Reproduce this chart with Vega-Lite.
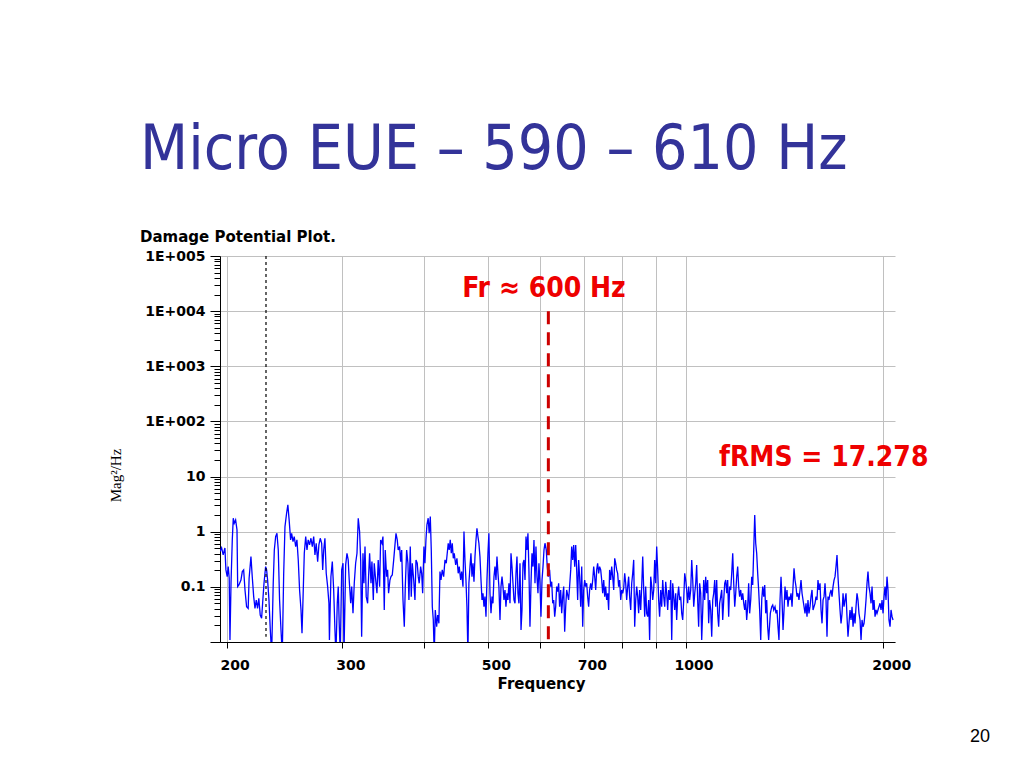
{
"$schema": "https://vega.github.io/schema/vega-lite/v6.json",
"width": 675,
"height": 386,
"autosize": {"type": "none"},
"padding": {"left": 220, "top": 256, "right": 129, "bottom": 126},
"background": "white",
"config": {"font": "DejaVu Sans", "view": {"stroke": null}},
"title": {
  "text": "Micro EUE – 590 – 610 Hz",
  "subtitle": "Damage Potential Plot.",
  "anchor": "start", "frame": "group", "dx": -80, "offset": 3,
  "font": "DejaVu Sans Condensed", "fontSize": 62, "fontWeight": "normal", "color": "#333399",
  "subtitleFont": "DejaVu Sans", "subtitleFontSize": 15, "subtitleFontWeight": "bold", "subtitleColor": "#000000", "subtitlePadding": 48
},
"datasets": {
"psd": [
{"freq":195.4,"psd":0.436},{"freq":196.5,"psd":0.508},{"freq":197.6,"psd":0.379},{"freq":198.8,"psd":0.508},{"freq":199.5,"psd":0.203},{"freq":200.4,"psd":0.153},{"freq":201.1,"psd":0.233},{"freq":201.8,"psd":0.145},{"freq":202.35,"psd":0.0109},{"freq":203.1,"psd":0.118},
{"freq":204.0,"psd":0.710},{"freq":204.7,"psd":1.756},{"freq":205.4,"psd":1.424},{"freq":206.4,"psd":1.637},{"freq":207.4,"psd":1.078},{"freq":207.9,"psd":0.101},{"freq":208.8,"psd":0.108},{"freq":210.3,"psd":0.133},{"freq":211.3,"psd":0.189},{"freq":212.3,"psd":0.203},
{"freq":213.3,"psd":0.0879},{"freq":214.5,"psd":0.0437},{"freq":215.7,"psd":0.0408},{"freq":216.4,"psd":0.143},{"freq":217.8,"psd":0.354},{"freq":218.8,"psd":0.153},{"freq":219.9,"psd":0.0665},{"freq":220.9,"psd":0.0408},{"freq":221.9,"psd":0.0578},{"freq":222.9,"psd":0.0408},
{"freq":223.9,"psd":0.062},{"freq":225.0,"psd":0.0309},{"freq":226.1,"psd":0.0269},{"freq":226.9,"psd":0.0503},{"freq":228.0,"psd":0.116},{"freq":229.3,"psd":0.233},{"freq":230.1,"psd":0.203},{"freq":230.9,"psd":0.133},{"freq":232.0,"psd":0.0578},{"freq":233.1,"psd":0.0165},
{"freq":234.2,"psd":0.006},{"freq":235.5,"psd":0.116},{"freq":236.4,"psd":0.467},{"freq":237.5,"psd":0.816},{"freq":238.6,"psd":0.938},{"freq":239.7,"psd":0.467},{"freq":240.8,"psd":0.0578},{"freq":242.0,"psd":0.0165},{"freq":243.1,"psd":0.006},{"freq":244.3,"psd":0.176},
{"freq":245.4,"psd":1.24},{"freq":246.8,"psd":2.163},{"freq":247.9,"psd":3.064},{"freq":249.0,"psd":1.637},{"freq":250.3,"psd":0.710},{"freq":251.2,"psd":0.938},{"freq":252.4,"psd":0.662},{"freq":253.5,"psd":0.816},{"freq":254.8,"psd":0.537},{"freq":255.9,"psd":0.710},
{"freq":257.1,"psd":0.308},{"freq":258.3,"psd":0.0879},{"freq":259.6,"psd":0.0381},{"freq":260.5,"psd":0.0144},{"freq":261.4,"psd":0.0578},{"freq":262.6,"psd":0.406},{"freq":263.9,"psd":0.816},{"freq":265.1,"psd":0.467},{"freq":266.2,"psd":0.710},{"freq":267.5,"psd":0.576},
{"freq":268.8,"psd":0.761},{"freq":270.1,"psd":0.537},{"freq":271.4,"psd":0.816},{"freq":272.6,"psd":0.379},{"freq":273.8,"psd":0.618},{"freq":275.2,"psd":0.287},{"freq":276.4,"psd":0.576},{"freq":277.7,"psd":0.761},{"freq":279.1,"psd":0.618},{"freq":280.1,"psd":0.203},
{"freq":281.1,"psd":0.467},{"freq":282.3,"psd":0.761},{"freq":283.6,"psd":0.176},{"freq":285.0,"psd":0.101},{"freq":286.3,"psd":0.0503},{"freq":286.8,"psd":0.0109},{"freq":288.3,"psd":0.153},{"freq":289.7,"psd":0.287},{"freq":291.1,"psd":0.0879},{"freq":292.4,"psd":0.0165},
{"freq":293.4,"psd":0.006},{"freq":294.8,"psd":0.0503},{"freq":295.8,"psd":0.101},{"freq":296.8,"psd":0.0218},{"freq":297.9,"psd":0.006},{"freq":299.4,"psd":0.203},{"freq":300.8,"psd":0.268},{"freq":301.8,"psd":0.006},{"freq":303.6,"psd":0.250},{"freq":305.0,"psd":0.406},
{"freq":306.3,"psd":0.308},{"freq":307.4,"psd":0.133},{"freq":309.0,"psd":0.0503},{"freq":310.1,"psd":0.101},{"freq":311.5,"psd":0.0331},{"freq":312.9,"psd":0.116},{"freq":314.4,"psd":0.268},{"freq":315.9,"psd":0.406},{"freq":317.3,"psd":1.756},{"freq":318.8,"psd":1.006},
{"freq":320.0,"psd":0.308},{"freq":321.1,"psd":0.0125},{"freq":322.6,"psd":0.406},{"freq":323.7,"psd":0.116},{"freq":324.9,"psd":0.537},{"freq":326.3,"psd":0.0665},{"freq":327.9,"psd":0.0503},{"freq":329.0,"psd":0.153},{"freq":330.2,"psd":0.406},{"freq":331.8,"psd":0.116},
{"freq":332.9,"psd":0.287},{"freq":334.5,"psd":0.0578},{"freq":335.6,"psd":0.268},{"freq":337.3,"psd":0.133},{"freq":338.8,"psd":0.0765},{"freq":340.3,"psd":0.308},{"freq":342.0,"psd":0.101},{"freq":343.2,"psd":0.710},{"freq":344.8,"psd":0.618},{"freq":346.0,"psd":0.816},
{"freq":347.6,"psd":0.0381},{"freq":348.8,"psd":0.467},{"freq":350.5,"psd":0.153},{"freq":351.7,"psd":0.203},{"freq":352.9,"psd":0.0765},{"freq":354.6,"psd":0.133},{"freq":355.9,"psd":0.153},{"freq":357.5,"psd":0.164},{"freq":359.3,"psd":0.308},{"freq":360.9,"psd":0.576},
{"freq":362.2,"psd":0.938},{"freq":363.8,"psd":0.710},{"freq":365.0,"psd":0.467},{"freq":366.8,"psd":0.537},{"freq":368.2,"psd":0.287},{"freq":369.5,"psd":0.467},{"freq":371.2,"psd":0.0578},{"freq":372.9,"psd":0.0189},{"freq":374.2,"psd":0.101},{"freq":376.0,"psd":0.467},
{"freq":377.7,"psd":0.268},{"freq":379.0,"psd":0.0578},{"freq":380.8,"psd":0.537},{"freq":382.1,"psd":0.0665},{"freq":383.5,"psd":0.268},{"freq":385.4,"psd":0.133},{"freq":387.1,"psd":0.0578},{"freq":388.5,"psd":0.308},{"freq":390.2,"psd":0.268},{"freq":391.6,"psd":0.153},
{"freq":392.9,"psd":0.116},{"freq":394.9,"psd":0.233},{"freq":396.3,"psd":0.176},{"freq":397.7,"psd":0.0765},{"freq":399.5,"psd":0.537},{"freq":400.9,"psd":0.268},{"freq":402.3,"psd":0.710},{"freq":403.7,"psd":1.329},{"freq":405.5,"psd":1.756},{"freq":406.9,"psd":0.938},
{"freq":408.5,"psd":1.882},{"freq":409.9,"psd":0.467},{"freq":411.4,"psd":0.0437},{"freq":412.8,"psd":0.0251},{"freq":414.2,"psd":0.006},{"freq":415.7,"psd":0.0381},{"freq":417.7,"psd":0.0189},{"freq":419.2,"psd":0.0309},{"freq":421.0,"psd":0.0218},{"freq":422.6,"psd":0.189},
{"freq":424.1,"psd":0.133},{"freq":426.0,"psd":0.203},{"freq":428.1,"psd":0.153},{"freq":430.1,"psd":0.308},{"freq":432.0,"psd":0.268},{"freq":433.5,"psd":0.406},{"freq":435.0,"psd":0.618},{"freq":436.5,"psd":0.467},{"freq":438.1,"psd":0.710},{"freq":439.7,"psd":0.406},
{"freq":441.2,"psd":0.618},{"freq":442.8,"psd":0.330},{"freq":444.3,"psd":0.406},{"freq":446.5,"psd":0.250},{"freq":448.5,"psd":0.330},{"freq":450.5,"psd":0.176},{"freq":452.1,"psd":0.233},{"freq":454.4,"psd":0.133},{"freq":456.0,"psd":0.189},{"freq":458.1,"psd":0.101},
{"freq":459.7,"psd":1.006},{"freq":461.3,"psd":0.308},{"freq":462.9,"psd":0.133},{"freq":464.5,"psd":0.0437},{"freq":466.1,"psd":0.006},{"freq":467.7,"psd":0.116},{"freq":469.5,"psd":0.233},{"freq":471.1,"psd":0.406},{"freq":472.8,"psd":0.153},{"freq":474.5,"psd":0.268},
{"freq":476.1,"psd":0.124},{"freq":477.8,"psd":0.354},{"freq":479.5,"psd":0.710},{"freq":481.1,"psd":1.156},{"freq":482.8,"psd":0.816},{"freq":484.4,"psd":0.618},{"freq":486.2,"psd":0.354},{"freq":488.0,"psd":0.133},{"freq":489.7,"psd":0.0578},{"freq":491.4,"psd":0.0765},
{"freq":493.1,"psd":0.0437},{"freq":494.8,"psd":0.0665},{"freq":496.6,"psd":0.0288},{"freq":498.3,"psd":0.133},{"freq":500.0,"psd":0.406},{"freq":501.7,"psd":0.938},{"freq":503.6,"psd":0.0765},{"freq":505.4,"psd":0.0331},{"freq":507.2,"psd":0.0665},{"freq":508.9,"psd":0.0503},
{"freq":510.7,"psd":0.153},{"freq":512.5,"psd":0.233},{"freq":514.3,"psd":0.133},{"freq":516.1,"psd":0.354},{"freq":517.9,"psd":0.176},{"freq":519.6,"psd":0.101},{"freq":521.6,"psd":0.0251},{"freq":523.4,"psd":0.101},{"freq":525.3,"psd":0.153},{"freq":527.1,"psd":0.101},
{"freq":528.9,"psd":0.0578},{"freq":530.8,"psd":0.0879},{"freq":532.6,"psd":0.0437},{"freq":534.5,"psd":0.0765},{"freq":536.3,"psd":0.0578},{"freq":538.2,"psd":0.116},{"freq":540.2,"psd":0.0503},{"freq":542.1,"psd":0.406},{"freq":544.0,"psd":0.233},{"freq":545.9,"psd":0.116},
{"freq":547.8,"psd":0.0578},{"freq":549.8,"psd":0.0503},{"freq":551.7,"psd":0.176},{"freq":553.6,"psd":0.354},{"freq":555.5,"psd":0.0765},{"freq":557.4,"psd":0.0503},{"freq":559.5,"psd":0.268},{"freq":561.5,"psd":0.0165},{"freq":563.4,"psd":0.0381},{"freq":565.4,"psd":0.268},
{"freq":567.4,"psd":0.308},{"freq":569.4,"psd":0.133},{"freq":571.4,"psd":0.816},{"freq":573.3,"psd":0.467},{"freq":575.3,"psd":0.938},{"freq":577.3,"psd":0.203},{"freq":579.4,"psd":0.0189},{"freq":581.5,"psd":0.116},{"freq":583.5,"psd":0.406},{"freq":585.6,"psd":0.233},
{"freq":587.6,"psd":0.710},{"freq":589.7,"psd":0.116},{"freq":591.7,"psd":0.537},{"freq":593.8,"psd":0.153},{"freq":595.9,"psd":0.0765},{"freq":597.9,"psd":0.268},{"freq":600.1,"psd":0.116},{"freq":602.2,"psd":0.0288},{"freq":604.4,"psd":0.133},{"freq":606.5,"psd":0.233},
{"freq":608.6,"psd":0.467},{"freq":610.7,"psd":0.618},{"freq":613.5,"psd":0.467},{"freq":615.6,"psd":0.233},{"freq":617.8,"psd":0.153},{"freq":620.7,"psd":0.203},{"freq":623.1,"psd":0.101},{"freq":625.3,"psd":0.124},{"freq":627.5,"psd":0.0503},{"freq":629.7,"psd":0.0578},
{"freq":631.9,"psd":0.0288},{"freq":634.1,"psd":0.0437},{"freq":636.3,"psd":0.101},{"freq":638.5,"psd":0.082},{"freq":640.7,"psd":0.116},{"freq":642.9,"psd":0.0437},{"freq":645.3,"psd":0.0879},{"freq":647.6,"psd":0.0331},{"freq":649.9,"psd":0.0665},{"freq":652.2,"psd":0.101},
{"freq":654.4,"psd":0.0154},{"freq":656.7,"psd":0.0437},{"freq":659.0,"psd":0.0879},{"freq":661.3,"psd":0.0713},{"freq":663.5,"psd":0.0578},{"freq":665.8,"psd":0.101},{"freq":668.4,"psd":0.203},{"freq":670.7,"psd":0.537},{"freq":673.1,"psd":0.308},{"freq":675.4,"psd":0.576},
{"freq":677.8,"psd":0.233},{"freq":680.2,"psd":0.576},{"freq":682.5,"psd":0.203},{"freq":684.9,"psd":0.0578},{"freq":687.2,"psd":0.308},{"freq":689.6,"psd":0.153},{"freq":692.2,"psd":0.0437},{"freq":694.7,"psd":0.233},{"freq":697.1,"psd":0.0189},{"freq":699.5,"psd":0.0879},
{"freq":702.0,"psd":0.133},{"freq":704.4,"psd":0.101},{"freq":706.9,"psd":0.116},{"freq":709.3,"psd":0.0665},{"freq":711.8,"psd":0.0437},{"freq":714.2,"psd":0.0879},{"freq":716.9,"psd":0.116},{"freq":719.4,"psd":0.0879},{"freq":722.0,"psd":0.133},{"freq":724.5,"psd":0.233},
{"freq":727.0,"psd":0.153},{"freq":729.6,"psd":0.0879},{"freq":732.1,"psd":0.203},{"freq":734.6,"psd":0.268},{"freq":737.2,"psd":0.176},{"freq":739.7,"psd":0.233},{"freq":742.5,"psd":0.203},{"freq":745.1,"psd":0.133},{"freq":747.7,"psd":0.0765},{"freq":750.4,"psd":0.133},
{"freq":753.0,"psd":0.0665},{"freq":755.6,"psd":0.101},{"freq":758.2,"psd":0.0578},{"freq":760.9,"psd":0.0765},{"freq":763.5,"psd":0.0381},{"freq":766.1,"psd":0.203},{"freq":769.0,"psd":0.133},{"freq":771.7,"psd":0.233},{"freq":774.4,"psd":0.153},{"freq":777.2,"psd":0.0879},
{"freq":779.9,"psd":0.330},{"freq":782.6,"psd":0.268},{"freq":785.3,"psd":0.203},{"freq":788.0,"psd":0.176},{"freq":790.7,"psd":0.101},{"freq":793.5,"psd":0.133},{"freq":796.5,"psd":0.0578},{"freq":799.3,"psd":0.0879},{"freq":802.1,"psd":0.0765},{"freq":804.9,"psd":0.0942},
{"freq":807.7,"psd":0.176},{"freq":810.5,"psd":0.116},{"freq":813.3,"psd":0.0578},{"freq":816.2,"psd":0.101},{"freq":819.0,"psd":0.153},{"freq":821.8,"psd":0.0665},{"freq":824.9,"psd":0.0381},{"freq":827.8,"psd":0.116},{"freq":830.7,"psd":0.176},{"freq":833.6,"psd":0.308},
{"freq":836.5,"psd":0.0189},{"freq":839.5,"psd":0.0578},{"freq":842.4,"psd":0.101},{"freq":845.3,"psd":0.0665},{"freq":848.2,"psd":0.0331},{"freq":851.1,"psd":0.0879},{"freq":854.3,"psd":0.0381},{"freq":857.3,"psd":0.101},{"freq":860.4,"psd":0.354},{"freq":863.4,"psd":0.0879},
{"freq":866.4,"psd":0.0288},{"freq":869.4,"psd":0.101},{"freq":872.4,"psd":0.0331},{"freq":875.5,"psd":0.0288},{"freq":878.5,"psd":0.0578},{"freq":881.5,"psd":0.0109},{"freq":884.8,"psd":0.153},{"freq":888.0,"psd":0.101},{"freq":891.1,"psd":0.0578},{"freq":894.2,"psd":0.0879},
{"freq":897.3,"psd":0.308},{"freq":900.4,"psd":0.116},{"freq":903.6,"psd":0.537},{"freq":906.7,"psd":0.203},{"freq":909.8,"psd":0.0578},{"freq":912.9,"psd":0.0288},{"freq":916.4,"psd":0.0879},{"freq":919.6,"psd":0.0437},{"freq":922.9,"psd":0.133},{"freq":926.1,"psd":0.0665},
{"freq":929.4,"psd":0.0437},{"freq":932.6,"psd":0.124},{"freq":935.8,"psd":0.0765},{"freq":939.1,"psd":0.0381},{"freq":942.3,"psd":0.0879},{"freq":945.5,"psd":0.0578},{"freq":949.1,"psd":0.133},{"freq":952.5,"psd":0.0109},{"freq":955.8,"psd":0.116},{"freq":959.2,"psd":0.0665},
{"freq":962.5,"psd":0.0381},{"freq":965.9,"psd":0.0765},{"freq":969.2,"psd":0.0251},{"freq":972.6,"psd":0.0665},{"freq":975.9,"psd":0.101},{"freq":979.3,"psd":0.0578},{"freq":983.0,"psd":0.0665},{"freq":986.5,"psd":0.0331},{"freq":989.9,"psd":0.0251},{"freq":993.4,"psd":0.0578},
{"freq":996.9,"psd":0.176},{"freq":1000.3,"psd":0.133},{"freq":1003.8,"psd":0.0879},{"freq":1007.3,"psd":0.0503},{"freq":1010.8,"psd":0.101},{"freq":1014.2,"psd":0.0578},{"freq":1018.1,"psd":0.0879},{"freq":1021.7,"psd":0.308},{"freq":1025.3,"psd":0.133},{"freq":1028.9,"psd":0.0437},
{"freq":1032.5,"psd":0.0765},{"freq":1036.1,"psd":0.116},{"freq":1039.6,"psd":0.250},{"freq":1043.2,"psd":0.0578},{"freq":1046.8,"psd":0.0189},{"freq":1050.4,"psd":0.116},{"freq":1054.4,"psd":0.0765},{"freq":1058.1,"psd":0.0109},{"freq":1061.9,"psd":0.0381},{"freq":1065.6,"psd":0.133},
{"freq":1069.3,"psd":0.0578},{"freq":1073.0,"psd":0.153},{"freq":1076.8,"psd":0.0765},{"freq":1080.5,"psd":0.133},{"freq":1084.2,"psd":0.0218},{"freq":1087.9,"psd":0.0578},{"freq":1092.0,"psd":0.0381},{"freq":1095.9,"psd":0.0125},{"freq":1099.8,"psd":0.0578},{"freq":1103.6,"psd":0.0765},
{"freq":1107.5,"psd":0.133},{"freq":1111.3,"psd":0.0437},{"freq":1115.2,"psd":0.133},{"freq":1119.0,"psd":0.0331},{"freq":1122.9,"psd":0.0189},{"freq":1126.8,"psd":0.0503},{"freq":1131.0,"psd":0.0665},{"freq":1135.0,"psd":0.0879},{"freq":1139.0,"psd":0.0251},{"freq":1143.0,"psd":0.0578},
{"freq":1147.0,"psd":0.116},{"freq":1151.0,"psd":0.133},{"freq":1155.0,"psd":0.0765},{"freq":1159.0,"psd":0.133},{"freq":1163.0,"psd":0.0288},{"freq":1167.0,"psd":0.101},{"freq":1171.4,"psd":0.0879},{"freq":1175.5,"psd":0.176},{"freq":1179.7,"psd":0.406},{"freq":1183.8,"psd":0.116},
{"freq":1188.0,"psd":0.0437},{"freq":1192.1,"psd":0.0765},{"freq":1196.2,"psd":0.153},{"freq":1200.4,"psd":0.233},{"freq":1204.5,"psd":0.101},{"freq":1208.6,"psd":0.0665},{"freq":1213.2,"psd":0.0879},{"freq":1217.5,"psd":0.0578},{"freq":1221.8,"psd":0.0765},{"freq":1226.1,"psd":0.0503},
{"freq":1230.3,"psd":0.0381},{"freq":1234.6,"psd":0.0578},{"freq":1238.9,"psd":0.0251},{"freq":1243.2,"psd":0.0437},{"freq":1247.5,"psd":0.116},{"freq":1251.8,"psd":0.0331},{"freq":1256.5,"psd":0.0578},{"freq":1260.9,"psd":0.153},{"freq":1265.4,"psd":0.108},{"freq":1269.8,"psd":0.467},
{"freq":1274.3,"psd":2.018},{"freq":1278.7,"psd":0.618},{"freq":1283.1,"psd":0.406},{"freq":1287.6,"psd":0.176},{"freq":1292.0,"psd":0.0879},{"freq":1296.5,"psd":0.0381},{"freq":1301.4,"psd":0.0109},{"freq":1306.0,"psd":0.0578},{"freq":1310.6,"psd":0.101},{"freq":1315.2,"psd":0.0665},
{"freq":1319.8,"psd":0.108},{"freq":1324.4,"psd":0.0331},{"freq":1328.9,"psd":0.0578},{"freq":1333.5,"psd":0.0189},{"freq":1338.1,"psd":0.0109},{"freq":1345.9,"psd":0.0331},{"freq":1352.6,"psd":0.0437},{"freq":1357.3,"psd":0.0469},{"freq":1362.1,"psd":0.0381},{"freq":1368.3,"psd":0.0437},
{"freq":1373.0,"psd":0.0331},{"freq":1377.8,"psd":0.0381},{"freq":1382.6,"psd":0.0189},{"freq":1387.3,"psd":0.0109},{"freq":1392.5,"psd":0.0578},{"freq":1397.4,"psd":0.153},{"freq":1402.3,"psd":0.0578},{"freq":1407.3,"psd":0.0165},{"freq":1412.2,"psd":0.0381},{"freq":1417.1,"psd":0.101},
{"freq":1422.0,"psd":0.0578},{"freq":1427.0,"psd":0.0879},{"freq":1431.9,"psd":0.0437},{"freq":1436.8,"psd":0.0665},{"freq":1442.2,"psd":0.0578},{"freq":1447.3,"psd":0.0765},{"freq":1452.4,"psd":0.0437},{"freq":1457.5,"psd":0.101},{"freq":1462.6,"psd":0.218},{"freq":1467.7,"psd":0.133},
{"freq":1472.8,"psd":0.101},{"freq":1477.9,"psd":0.0665},{"freq":1483.0,"psd":0.0765},{"freq":1488.1,"psd":0.0578},{"freq":1493.7,"psd":0.0879},{"freq":1498.9,"psd":0.133},{"freq":1504.2,"psd":0.0765},{"freq":1509.5,"psd":0.0578},{"freq":1514.8,"psd":0.0437},{"freq":1520.1,"psd":0.0331},
{"freq":1525.4,"psd":0.0503},{"freq":1530.7,"psd":0.0288},{"freq":1535.9,"psd":0.0578},{"freq":1541.2,"psd":0.0331},{"freq":1547.0,"psd":0.0437},{"freq":1552.4,"psd":0.0665},{"freq":1557.9,"psd":0.0879},{"freq":1563.4,"psd":0.0381},{"freq":1568.9,"psd":0.0437},{"freq":1574.3,"psd":0.0503},
{"freq":1579.8,"psd":0.0665},{"freq":1585.3,"psd":0.0578},{"freq":1590.8,"psd":0.133},{"freq":1596.2,"psd":0.0879},{"freq":1602.2,"psd":0.116},{"freq":1607.9,"psd":0.0381},{"freq":1613.5,"psd":0.0218},{"freq":1619.2,"psd":0.0578},{"freq":1624.9,"psd":0.0665},{"freq":1630.5,"psd":0.116},
{"freq":1636.2,"psd":0.0578},{"freq":1641.9,"psd":0.0125},{"freq":1647.6,"psd":0.0665},{"freq":1653.2,"psd":0.0578},{"freq":1659.4,"psd":0.0765},{"freq":1665.2,"psd":0.0879},{"freq":1671.1,"psd":0.0665},{"freq":1677.0,"psd":0.101},{"freq":1682.9,"psd":0.133},{"freq":1688.7,"psd":0.153},
{"freq":1694.6,"psd":0.233},{"freq":1700.5,"psd":0.379},{"freq":1706.4,"psd":0.153},{"freq":1712.2,"psd":0.0765},{"freq":1718.6,"psd":0.0381},{"freq":1724.7,"psd":0.0218},{"freq":1730.8,"psd":0.0331},{"freq":1736.8,"psd":0.0765},{"freq":1742.9,"psd":0.0437},{"freq":1749.0,"psd":0.0578},
{"freq":1755.1,"psd":0.0765},{"freq":1761.2,"psd":0.0288},{"freq":1767.3,"psd":0.0125},{"freq":1773.4,"psd":0.0218},{"freq":1779.9,"psd":0.0381},{"freq":1786.2,"psd":0.0251},{"freq":1792.5,"psd":0.0437},{"freq":1798.8,"psd":0.0189},{"freq":1805.1,"psd":0.0331},{"freq":1811.4,"psd":0.0218},
{"freq":1817.7,"psd":0.0437},{"freq":1824.0,"psd":0.0765},{"freq":1830.4,"psd":0.0578},{"freq":1836.7,"psd":0.0331},{"freq":1843.5,"psd":0.0251},{"freq":1850.0,"psd":0.0109},{"freq":1856.5,"psd":0.0251},{"freq":1863.0,"psd":0.0189},{"freq":1869.6,"psd":0.0218},{"freq":1876.1,"psd":0.0331},
{"freq":1882.6,"psd":0.0578},{"freq":1889.2,"psd":0.116},{"freq":1895.7,"psd":0.189},{"freq":1902.2,"psd":0.101},{"freq":1909.3,"psd":0.0765},{"freq":1916.0,"psd":0.0503},{"freq":1922.8,"psd":0.101},{"freq":1929.5,"psd":0.0381},{"freq":1936.3,"psd":0.0578},{"freq":1943.1,"psd":0.0288},
{"freq":1949.8,"psd":0.0381},{"freq":1956.6,"psd":0.0331},{"freq":1963.3,"psd":0.0381},{"freq":1970.1,"psd":0.0437},{"freq":1977.4,"psd":0.0503},{"freq":1984.4,"psd":0.0381},{"freq":1991.4,"psd":0.0578},{"freq":1998.4,"psd":0.0331},{"freq":2005.4,"psd":0.0665},{"freq":2012.4,"psd":0.101},
{"freq":2019.4,"psd":0.0578},{"freq":2026.4,"psd":0.153},{"freq":2033.4,"psd":0.0879},{"freq":2040.4,"psd":0.0251},{"freq":2048.0,"psd":0.0189},{"freq":2055.2,"psd":0.0381},{"freq":2062.5,"psd":0.0288},{"freq":2069.7,"psd":0.0251}
]
},
"layer": [
{
  "data": {"name": "psd"},
  "mark": {"type": "line", "color": "#0000ff", "strokeWidth": 1.3, "clip": true},
  "encoding": {
    "x": {"field": "freq", "type": "quantitative",
      "scale": {"type": "log", "domain": [195.4, 2084], "nice": false},
      "axis": {"title": "Frequency", "values": [200,300,400,500,600,700,800,900,1000,2000], "format": "d",
        "labelExpr": "indexof([200,300,500,700,1000,2000], datum.value) >= 0 ? datum.label : ''",
        "grid": true, "gridColor": "#c0c0c0", "gridWidth": 1,
        "domainColor": "#000000", "domainWidth": 1, "tickColor": "#000000", "tickSize": 6,
        "labelFont": "DejaVu Sans", "labelFontSize": 14, "labelFontWeight": "bold", "labelColor": "#000000",
        "labelPadding": 10, "labelOffset": 8, "labelFlush": false, "labelOverlap": false,
        "titleFont": "DejaVu Sans", "titleFontSize": 15, "titleFontWeight": "bold", "titleColor": "#000000",
        "titleX": 321, "titleY": 34, "titleBaseline": "top", "titleAlign": "center"}},
    "y": {"field": "psd", "type": "quantitative",
      "scale": {"type": "log", "domain": [0.01, 100000], "nice": false},
      "axis": {"title": "Mag²/Hz",
        "values": [0.01,0.02,0.03,0.04,0.05,0.06,0.07,0.08,0.09,0.1,0.2,0.3,0.4,0.5,0.6,0.7,0.8,0.9,1,2,3,4,5,6,7,8,9,10,20,30,40,50,60,70,80,90,100,200,300,400,500,600,700,800,900,1000,2000,3000,4000,5000,6000,7000,8000,9000,10000,20000,30000,40000,50000,60000,70000,80000,90000,100000],
        "labelExpr": "datum.value < 0.05 || abs(log(datum.value)/LN10 - round(log(datum.value)/LN10)) > 0.01 ? '' : datum.value >= 100 ? '1E+00' + round(log(datum.value)/LN10) : datum.value >= 1 ? '' + round(datum.value) : '0.1'",
        "grid": true, "gridColor": "#c0c0c0", "gridWidth": 1,
        "gridOpacity": {"condition": {"test": "abs(log(datum.value)/LN10 - round(log(datum.value)/LN10)) < 0.01", "value": 1}, "value": 0},
        "tickSize": {"condition": {"test": "abs(log(datum.value)/LN10 - round(log(datum.value)/LN10)) < 0.01", "value": 10}, "value": 6},
        "domainColor": "#000000", "domainWidth": 1, "tickColor": "#000000",
        "labelFont": "DejaVu Sans", "labelFontSize": 14, "labelFontWeight": "bold", "labelColor": "#000000",
        "labelPadding": 5, "labelFlush": false, "labelOverlap": false,
        "titleFont": "Liberation Serif", "titleFontSize": 15, "titleFontWeight": "normal", "titleColor": "#000000",
        "titleX": -105, "titleY": 219, "titleAngle": -90, "titleBaseline": "middle", "titleAlign": "center"}}
  }
},
{
  "data": {"values": [{"freq": 229.6, "psd": 100000, "psd2": 0.0125}]},
  "mark": {"type": "rule", "color": "#000000", "strokeWidth": 1.2, "strokeDash": [3, 3]},
  "encoding": {"x": {"field": "freq", "type": "quantitative"}, "y": {"field": "psd", "type": "quantitative"}, "y2": {"field": "psd2"}}
},
{
  "data": {"values": [{"freq": 618, "psd": 10000, "psd2": 0.01}]},
  "mark": {"type": "rule", "color": "#cc0000", "strokeWidth": 3, "strokeDash": [13, 8]},
  "encoding": {"x": {"field": "freq", "type": "quantitative"}, "y": {"field": "psd", "type": "quantitative"}, "y2": {"field": "psd2"}}
},
{
  "data": {"values": [{"label": "Fr ≈ 600 Hz", "freq": 608.5, "psd": 18000}, {"label": "fRMS = 17.278", "freq": 1623, "psd": 15.6}]},
  "mark": {"type": "text", "color": "#ee0000", "font": "DejaVu Sans Condensed", "fontSize": 28, "fontWeight": "bold", "align": "center", "baseline": "alphabetic", "clip": false},
  "encoding": {"x": {"field": "freq", "type": "quantitative"}, "y": {"field": "psd", "type": "quantitative"}, "text": {"field": "label"}}
},
{
  "data": {"values": [{"label": "20", "freq": 2808, "psd": 0.000153}]},
  "mark": {"type": "text", "color": "#000000", "font": "Liberation Sans", "fontSize": 18, "align": "center", "baseline": "alphabetic", "clip": false},
  "encoding": {"x": {"field": "freq", "type": "quantitative"}, "y": {"field": "psd", "type": "quantitative"}, "text": {"field": "label"}}
}
]
}
